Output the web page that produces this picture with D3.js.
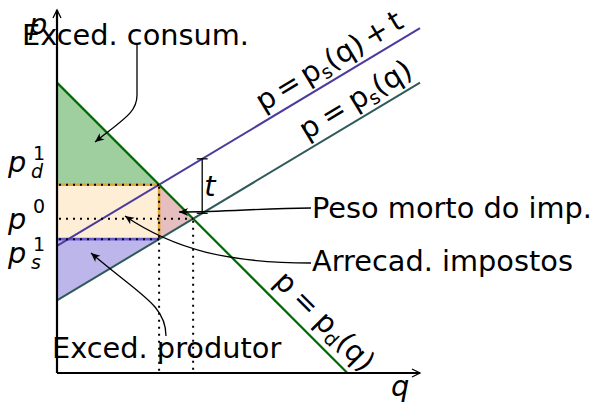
<!DOCTYPE html>
<html><head><meta charset="utf-8">
<script src="https://cdn.jsdelivr.net/npm/d3@7"></script>
<style>
html,body{margin:0;padding:0;background:#fff;}
svg{display:block;font-family:"DejaVu Sans",sans-serif;}
</style></head>
<body>
<svg id="c" width="596" height="404"></svg>
<script>
// ---- model (data units) ----
const demand = {intercept: 8, slope: -1};      // p = pd(q) = 8 - q
const supply = {intercept: 2, slope: 0.6};     // p = ps(q) = 2 + 0.6 q
const tax = 1.5;                               // t
const axisMax = [10, 10];                      // q max, p max
const bracketQ = 4;                            // where the t bracket is drawn
// text labels
const areaLabels = ["Exced. consum.", "Exced. produtor", "Peso morto do imp.", "Arrecad. impostos"];
// annotation leader paths (data units)
const leaderConsum = [[2.204,9.036],[2.204,7.66],[2.204,7.19],[1.873,7.02],[1.047,6.364]];
const leaderProd   = [[3.003,1.019],[3.003,1.873],[2.287,2.149],[0.937,3.306]];
const leaderPeso   = [[6.997,4.545],[5.592,4.545],[4.766,4.435],[3.361,4.435]];
const leaderArrec  = [[6.997,3.030],[4.766,3.030],[3.251,3.388],[1.873,4.325]];

const pd = q => demand.intercept + demand.slope*q;
const ps = q => supply.intercept + supply.slope*q;
const pst = q => ps(q) + tax;
const q0 = (demand.intercept - supply.intercept)/(supply.slope - demand.slope);
const p0 = pd(q0);
const q1 = (demand.intercept - supply.intercept - tax)/(supply.slope - demand.slope);
const pd1 = pd(q1), ps1 = ps(q1);
const qDemandZero = -demand.intercept/demand.slope;

const svg = d3.select("#c");
const x = d3.scaleLinear().domain([0, axisMax[0]]).range([57, 420]);
const y = d3.scaleLinear().domain([0, axisMax[1]]).range([373, 10]);
const line = d3.line().x(d=>x(d[0])).y(d=>y(d[1]));

const defs = svg.append("defs");
defs.append("marker").attr("id","ah").attr("viewBox","-10 -5 12 10")
  .attr("markerWidth",12).attr("markerHeight",10).attr("refX",0).attr("refY",0)
  .attr("orient","auto").attr("markerUnits","userSpaceOnUse")
  .append("path").attr("d","M-9,-4 L0,0 L-9,4 L-6.5,0 Z").attr("fill","#000");
defs.append("marker").attr("id","ax").attr("viewBox","-10 -5 12 10")
  .attr("markerWidth",12).attr("markerHeight",10).attr("refX",0).attr("refY",0)
  .attr("orient","auto").attr("markerUnits","userSpaceOnUse")
  .append("path").attr("d","M-8,-4 L0,0 L-8,4").attr("fill","none").attr("stroke","#000").attr("stroke-width",1.3);

// ---- fills ----
svg.append("path").attr("d", line([[0,demand.intercept],[0,pd1],[q1,pd1]])+"Z").attr("fill","#9fcf9f");
svg.append("path").attr("d", line([[0,ps1],[q1,ps1],[q1,pd1],[0,pd1]])+"Z").attr("fill","#ffeed6");
svg.append("path").attr("d", line([[q1,pd1],[q1,ps1],[q0,p0]])+"Z").attr("fill","#e6bec0");
svg.append("path").attr("d", line([[0,ps1],[q1,ps1],[0,supply.intercept]])+"Z").attr("fill","#bcb6ea");

// colored edges
svg.append("path").attr("d", line([[0,pd1],[q1,pd1],[q1,ps1]])).attr("fill","none").attr("stroke","#e2a634").attr("stroke-width",2.6);
svg.append("path").attr("d", line([[0,ps1],[q1,ps1]])).attr("fill","none").attr("stroke","#6a5ad0").attr("stroke-width",2.6);

// ---- curves ----
svg.append("path").attr("d", line([[0,pst(0)],[axisMax[0],pst(axisMax[0])]])).attr("stroke","#4b3c9c").attr("stroke-width",2).attr("fill","none");
svg.append("path").attr("d", line([[0,ps(0)],[axisMax[0],ps(axisMax[0])]])).attr("stroke","#2f5a5a").attr("stroke-width",2).attr("fill","none");
svg.append("path").attr("d", line([[0,pd(0)],[qDemandZero,0]])).attr("stroke","#006b00").attr("stroke-width",2.2).attr("fill","none");

// ---- dotted guides ----
const dots = [
  [[0,pd1],[q1,pd1]],
  [[0,p0],[q0,p0]],
  [[0,ps1],[q1,ps1]],
  [[q1,pd1],[q1,0]],
  [[q0,p0],[q0,0]]
];
dots.forEach(s=>{
  svg.append("path").attr("d", line(s)).attr("stroke","#000").attr("stroke-width",2)
    .attr("stroke-dasharray","2,5").attr("stroke-dashoffset",-2).attr("fill","none");
});

// ---- axes ----
svg.append("path").attr("d", line([[0,0],[0,axisMax[1]]])).attr("stroke","#000").attr("stroke-width",2.2).attr("fill","none").attr("marker-end","url(#ax)");
svg.append("path").attr("d", line([[0,0],[axisMax[0],0]])).attr("stroke","#000").attr("stroke-width",2.2).attr("fill","none").attr("marker-end","url(#ax)");
svg.append("text").attr("x",29).attr("y",34).attr("font-size",28.8).attr("font-style","italic").text("p");
svg.append("text").attr("x",391).attr("y",396).attr("font-size",28.8).attr("font-style","italic").text("q");

// ---- t bracket ----
const bw = 0.15;
svg.append("path").attr("d", line([[bracketQ,ps(bracketQ)],[bracketQ,pst(bracketQ)]])).attr("stroke","#000").attr("stroke-width",1.3);
svg.append("path").attr("d", line([[bracketQ-bw,pst(bracketQ)],[bracketQ+bw,pst(bracketQ)]])).attr("stroke","#000").attr("stroke-width",1.3);
svg.append("path").attr("d", line([[bracketQ-bw,ps(bracketQ)],[bracketQ+bw,ps(bracketQ)]])).attr("stroke","#000").attr("stroke-width",1.3);
svg.append("text").attr("x",x(bracketQ)+2).attr("y",196).attr("font-size",28.8).attr("font-style","italic").text("t");

// ---- price labels ----
function priceLabel(yb, sup, supDy, sub, subDy){
  const t = svg.append("text").attr("font-size",28.8).attr("x",8).attr("y",yb);
  t.append("tspan").attr("font-style","italic").text("p");
  if(sup){ t.append("tspan").attr("x",33).attr("dy",supDy).attr("font-size",19).text(sup); }
  if(sub){ t.append("tspan").attr("x",31).attr("dy",subDy).attr("font-size",19).attr("font-style","italic").text(sub); }
}
priceLabel(y(pd1)-13, "1", -12, "d", 18);
priceLabel(y(p0)+10, "0", -16, null, 0);
priceLabel(y(ps1)+24, "1", -12, "s", 18);

// ---- curve labels ----
function curveLabel(q, f, off, parts){
  const x0 = x(q), y0 = y(f(q));
  const x1 = x(q+1), y1 = y(f(q+1));
  const ang = Math.atan2(y1-y0, x1-x0);
  const ux = Math.sin(ang), uy = -Math.cos(ang);
  const px = x0 + ux*off, py = y0 + uy*off;
  const t = svg.append("text").attr("font-size",28.8)
    .attr("transform",`translate(${px},${py}) rotate(${ang*180/Math.PI})`);
  parts.forEach(p=>{
    const s = t.append("tspan").text(p.t);
    if(p.sub){ s.attr("font-size",19).attr("dy",5); }
    if(p.back){ s.attr("dy",-5); }
  });
}
const S5 = "\u2005", S6 = "\u2006";
curveLabel(5.8, pst, 9, [{t:"p"+S6+"="+S6+"p"},{t:"s",sub:true},{t:"(q)"+S6+"+"+S6+"t",back:true}]);
curveLabel(7.0, ps, 9, [{t:"p"+S5+"="+S5+"p"},{t:"s",sub:true},{t:"(q)",back:true}]);
curveLabel(5.73, pd, 11, [{t:"p"+S5+"="+S5+"p"},{t:"d",sub:true},{t:"(q)",back:true}]);

// ---- leaders ----
function bez(pts){
  const p = d3.path();
  p.moveTo(x(pts[0][0]), y(pts[0][1]));
  let i = 1;
  if(pts.length===5){ p.lineTo(x(pts[1][0]), y(pts[1][1])); i = 2; }
  p.bezierCurveTo(x(pts[i][0]),y(pts[i][1]),x(pts[i+1][0]),y(pts[i+1][1]),x(pts[i+2][0]),y(pts[i+2][1]));
  return p.toString();
}
[leaderConsum, leaderProd, leaderPeso, leaderArrec].forEach(l=>{
  svg.append("path").attr("d", bez(l)).attr("fill","none").attr("stroke","#000").attr("stroke-width",1.3).attr("marker-end","url(#ah)");
});

// ---- area labels ----
svg.append("text").attr("x",22).attr("y",45).attr("font-size",28.8).text(areaLabels[0]);
svg.append("text").attr("x",52).attr("y",358).attr("font-size",28.8).text(areaLabels[1]);
svg.append("text").attr("x",312).attr("y",218).attr("font-size",28.8).text(areaLabels[2]);
svg.append("text").attr("x",312).attr("y",271).attr("font-size",28.8).text(areaLabels[3]);
</script>
</body></html>
